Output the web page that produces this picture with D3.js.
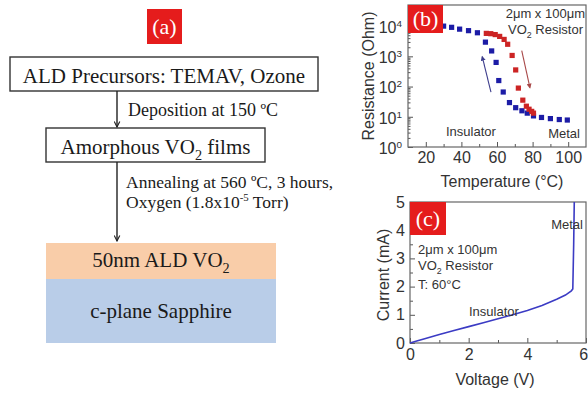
<!DOCTYPE html>
<html>
<head>
<meta charset="utf-8">
<script src="https://cdn.jsdelivr.net/npm/d3@7/dist/d3.min.js"></script>
<style>
  body { margin: 0; background: #fff; }
  svg { display: block; }
  .sans { font-family: "Liberation Sans", Arial, sans-serif; fill: #333; }
  .serif { font-family: "Liberation Serif", "Times New Roman", serif; fill: #1a1a1a; }
  .frame { fill: none; stroke: #666; stroke-width: 1.2; }
</style>
</head>
<body>
<script>
// (a) process flow
var steps = ["ALD Precursors: TEMAV, Ozone", "Amorphous VO|2| films"];
var stepNotes = [["Deposition at 150 \u00baC"], ["Annealing at 560 \u00baC, 3 hours,", "Oxygen (1.8x10^-5^ Torr)"]];
var layers = ["50nm ALD VO|2|", "c-plane Sapphire"];
var layerColors = ["#f9cda9", "#b9cde8"];

// (b) resistance vs temperature, cooling (blue) and heating (red)
var coolT = [30, 34.5, 39, 44, 49, 53.5, 57, 59.5, 61, 63.5, 67, 70.5, 74, 77, 80.5, 85, 90, 95, 99.5];
var coolR = [10000, 9120, 7940, 7080, 6030, 2950, 1510, 630, 158, 66, 29.5, 20, 15.8, 13.2, 10.7, 9.5, 8.7, 8.1, 7.8];
var heatT = [54, 56.5, 59, 61.5, 64, 66, 68.5, 70.5, 72, 74.5, 76.5, 78, 79.5, 80.5];
var heatR = [5750, 5620, 5250, 4570, 3630, 2510, 1070, 355, 89, 35.5, 22.4, 17.8, 15.1, 13.2];
var tempTicks = [20, 40, 60, 80, 100];
var resTicks = [1, 10, 100, 1000, 10000];

// (c) current vs voltage at 60 C
var volt = [0, 0.2, 0.5, 1, 1.5, 2, 2.5, 3, 3.5, 4, 4.5, 5, 5.3, 5.5, 5.55, 5.58, 5.6];
var curr = [0, 0.06, 0.15, 0.3, 0.44, 0.58, 0.72, 0.86, 1.0, 1.15, 1.33, 1.55, 1.7, 1.85, 1.92, 3.5, 5.0];
var voltTicks = [0, 2, 4, 6];
var currTicks = [0, 1, 2, 3, 4, 5];

var svg = d3.select("body").append("svg")
  .attr("width", 588)
  .attr("height", 393);

var defs = svg.append("defs");
function headMarker(id, color, open) {
  var m = defs.append("marker")
    .attr("id", id)
    .attr("viewBox", "0 0 10 10")
    .attr("refX", open ? 9 : 8).attr("refY", 5)
    .attr("markerWidth", open ? 7 : 5).attr("markerHeight", open ? 7 : 5)
    .attr("markerUnits", "userSpaceOnUse")
    .attr("orient", "auto");
  if (open)
    m.append("path").attr("d", "M1,1 L9,5 L1,9").attr("fill", "none").attr("stroke", color).attr("stroke-width", 1.6);
  else
    m.append("path").attr("d", "M0,0 L10,5 L0,10 z").attr("fill", color);
}
headMarker("arrOpen", "#222", true);
headMarker("arrBlue", "#3d3d8c", false);
headMarker("arrRed", "#a84848", false);

// text with |sub| and ^sup^ parts; the shift is undone on the following piece
function rich(sel, str, size) {
  var parts = str.split(/(\|[^|]*\||\^[^^]*\^)/).filter(function(s) { return s.length; });
  var back = 0;
  parts.forEach(function(p) {
    var t = sel.append("tspan");
    if (p[0] == "|") {
      t.attr("dy", back + size * 0.28).attr("font-size", size * 0.68).text(p.slice(1, -1));
      back = -size * 0.28;
    } else if (p[0] == "^") {
      t.attr("dy", back - size * 0.38).attr("font-size", size * 0.62).text(p.slice(1, -1));
      back = size * 0.38;
    } else {
      if (back) t.attr("dy", back);
      t.text(p);
      back = 0;
    }
  });
  return sel;
}

function tagBox(x, y, w, h, label) {
  svg.append("rect").attr("x", x).attr("y", y).attr("width", w).attr("height", h).attr("fill", "#e51c1c");
  svg.append("text").attr("class", "serif")
    .attr("x", x + w / 2).attr("y", y + h / 2 + 7)
    .attr("text-anchor", "middle").attr("font-size", 22)
    .style("fill", "#fff")
    .text(label);
}

// ---------- (a) flow chart ----------
tagBox(147, 9, 35, 35, "(a)");

var boxes = [{x: 10, y: 57, w: 308, h: 34}, {x: 46, y: 128, w: 219, h: 34}];
steps.forEach(function(s, i) {
  var b = boxes[i];
  svg.append("rect").attr("x", b.x).attr("y", b.y).attr("width", b.w).attr("height", b.h)
    .attr("fill", "#fff").attr("stroke", "#333").attr("stroke-width", 1.4);
  rich(svg.append("text").attr("class", "serif")
    .attr("x", b.x + b.w / 2).attr("y", b.y + 26)
    .attr("text-anchor", "middle").attr("font-size", 21), s, 21);
});

var arrowX = 117;
var arrowSpans = [[91, 127], [162, 241]];
arrowSpans.forEach(function(a, i) {
  svg.append("line").attr("x1", arrowX).attr("x2", arrowX).attr("y1", a[0]).attr("y2", a[1])
    .attr("stroke", "#222").attr("stroke-width", 1.4).attr("marker-end", "url(#arrOpen)");
  stepNotes[i].forEach(function(n, j) {
    var fs = i == 0 ? 18 : 17.5;
    rich(svg.append("text").attr("class", "serif")
      .attr("x", i == 0 ? 128 : 126).attr("y", (i == 0 ? 116 : 188) + j * 20)
      .attr("font-size", fs), n, fs);
  });
});

// film stack
var stackY = [243, 279, 343];
layers.forEach(function(l, i) {
  svg.append("rect").attr("x", 46).attr("y", stackY[i]).attr("width", 230).attr("height", stackY[i + 1] - stackY[i])
    .attr("fill", layerColors[i]);
  rich(svg.append("text").attr("class", "serif")
    .attr("x", 161).attr("y", i == 0 ? 267 : 318)
    .attr("text-anchor", "middle").attr("font-size", 21), l, 21);
});

// ---------- (b) R vs T ----------
var xB = d3.scaleLinear().domain([10, 110]).range([408, 586]);
var yB = d3.scaleLog().domain([1, 5e4]).range([147, 5]);

var gB = svg.append("g").attr("class", "sans");
var minorR = [];
resTicks.forEach(function(d) { for (var k = 2; k < 10; k++) if (d * k < 5e4) minorR.push(d * k); });

gB.append("g").attr("transform", "translate(0,147)")
  .call(d3.axisBottom(xB).tickValues([30, 50, 70, 90]).tickSizeInner(-3).tickSizeOuter(0).tickFormat(""));
gB.append("g").attr("transform", "translate(0,147)")
  .call(d3.axisBottom(xB).tickValues(tempTicks).tickSizeInner(-5).tickSizeOuter(0).tickPadding(5));
gB.append("g").attr("transform", "translate(408,0)")
  .call(d3.axisLeft(yB).tickValues(minorR).tickSizeInner(-2.5).tickSizeOuter(0).tickFormat(""));
var yAxB = gB.append("g").attr("transform", "translate(408,0)")
  .call(d3.axisLeft(yB).tickValues(resTicks).tickSizeInner(-5).tickSizeOuter(0).tickPadding(6).tickFormat(""));
yAxB.selectAll(".tick text").each(function(d) {
  var t = d3.select(this).attr("dy", "0.4em");
  rich(t, "10^" + Math.round(Math.log10(d)) + "^", 16);
});
gB.selectAll("text").filter(function() { return this.textContent == ""; }).remove();

gB.selectAll(".domain").remove();
gB.selectAll(".tick line").attr("stroke", "#555");
gB.selectAll(".tick text").attr("font-size", 16).style("fill", "#333");
gB.append("rect").attr("class", "frame").attr("x", 408).attr("y", 5).attr("width", 178).attr("height", 142);

gB.selectAll(".cool").data(coolT).enter().append("rect")
  .attr("x", function(d) { return xB(d) - 2.6; })
  .attr("y", function(d, i) { return yB(coolR[i]) - 2.6; })
  .attr("width", 5.2).attr("height", 5.2)
  .attr("fill", "#1c1ca6");
gB.selectAll(".heat").data(heatT).enter().append("rect")
  .attr("x", function(d) { return xB(d) - 2.6; })
  .attr("y", function(d, i) { return yB(heatR[i]) - 2.6; })
  .attr("width", 5.2).attr("height", 5.2)
  .attr("fill", "#cc2424");

// hysteresis direction arrows
gB.append("line")
  .attr("x1", xB(56.6)).attr("y1", yB(66)).attr("x2", xB(51.7)).attr("y2", yB(980))
  .attr("stroke", "#3d3d8c").attr("stroke-width", 1.1).attr("marker-end", "url(#arrBlue)");
gB.append("line")
  .attr("x1", xB(73.9)).attr("y1", yB(1550)).attr("x2", xB(78.5)).attr("y2", yB(92))
  .attr("stroke", "#a84848").attr("stroke-width", 1.1).attr("marker-end", "url(#arrRed)");

tagBox(408, 5, 35, 28, "(b)");
gB.append("text").attr("x", 585).attr("y", 18).attr("text-anchor", "end").attr("font-size", 13).text("2\u03bcm x 100\u03bcm");
rich(gB.append("text").attr("x", 583).attr("y", 34).attr("text-anchor", "end").attr("font-size", 13), "VO|2| Resistor", 13);
gB.append("text").attr("x", 446).attr("y", 136).attr("font-size", 13).text("Insulator");
gB.append("text").attr("x", 580).attr("y", 138).attr("text-anchor", "end").attr("font-size", 13).text("Metal");

gB.append("text").attr("x", 502).attr("y", 187).attr("text-anchor", "middle").attr("font-size", 16).text("Temperature (\u00b0C)");
gB.append("text").attr("transform", "translate(374,76) rotate(-90)").attr("text-anchor", "middle").attr("font-size", 16).text("Resistance (Ohm)");

// ---------- (c) I vs V ----------
var xC = d3.scaleLinear().domain([0, 6]).range([410, 586]);
var yC = d3.scaleLinear().domain([0, 5]).range([343, 202]);
var gC = svg.append("g").attr("class", "sans");

gC.append("g").attr("transform", "translate(0,343)")
  .call(d3.axisBottom(xC).tickValues([1, 3, 5]).tickSizeInner(-3).tickSizeOuter(0).tickFormat(""));
gC.append("g").attr("transform", "translate(0,343)")
  .call(d3.axisBottom(xC).tickValues(voltTicks).tickSizeInner(-5).tickSizeOuter(0).tickPadding(6).tickFormat(d3.format("d")));
gC.append("g").attr("transform", "translate(410,0)")
  .call(d3.axisLeft(yC).tickValues([0.5, 1.5, 2.5, 3.5, 4.5]).tickSizeInner(-3).tickSizeOuter(0).tickFormat(""));
gC.append("g").attr("transform", "translate(410,0)")
  .call(d3.axisLeft(yC).tickValues(currTicks).tickSizeInner(-5).tickSizeOuter(0).tickPadding(5).tickFormat(d3.format("d")));
gC.selectAll("text").filter(function() { return this.textContent == ""; }).remove();

gC.selectAll(".domain").remove();
gC.selectAll(".tick line").attr("stroke", "#555");
gC.selectAll(".tick text").attr("font-size", 16).style("fill", "#333");
// the "6" sits on the page edge, keep it inside
gC.selectAll(".tick text").filter(function(d) { return d == 6; }).attr("text-anchor", "end").attr("dx", "0.1em");
gC.append("rect").attr("class", "frame").attr("x", 410).attr("y", 202).attr("width", 176).attr("height", 141);

var ivLine = d3.line()
  .x(function(d) { return xC(d); })
  .y(function(d, i) { return yC(curr[i]); });
gC.append("path").datum(volt)
  .attr("d", ivLine)
  .attr("fill", "none").attr("stroke", "#3b3bc4").attr("stroke-width", 1.6);

tagBox(410, 202, 36, 33, "(c)");
gC.append("text").attr("x", 418).attr("y", 254).attr("font-size", 13).text("2\u03bcm x 100\u03bcm");
rich(gC.append("text").attr("x", 418).attr("y", 270).attr("font-size", 13), "VO|2| Resistor", 13);
gC.append("text").attr("x", 418).attr("y", 289).attr("font-size", 13).text("T: 60\u00b0C");
gC.append("text").attr("x", 469).attr("y", 316).attr("font-size", 13).text("Insulator");
gC.append("text").attr("x", 583).attr("y", 229).attr("text-anchor", "end").attr("font-size", 13).text("Metal");

gC.append("text").attr("x", 495).attr("y", 385).attr("text-anchor", "middle").attr("font-size", 16).text("Voltage (V)");
gC.append("text").attr("transform", "translate(389,275) rotate(-90)").attr("text-anchor", "middle").attr("font-size", 16).text("Current (mA)");
</script>
</body>
</html>
